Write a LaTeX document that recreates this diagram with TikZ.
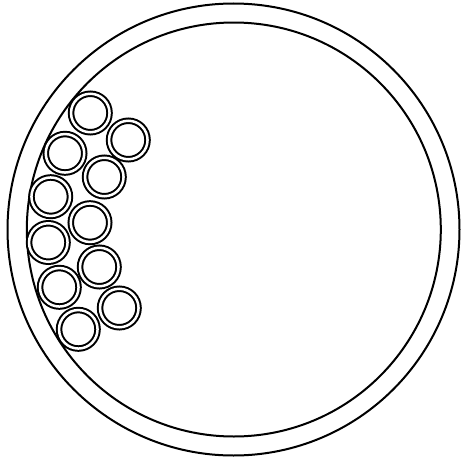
\documentclass[tikz,border=0pt]{standalone}
\usepackage{tikz}
\usetikzlibrary{positioning}
\tikzset{
  %% ---- vessel ----
  wall/.style = {draw=black, line width=2pt},
  %% ---- small tubes ----
  tube/.style = {circle, draw=black, line width=2pt, double=white,
                 double distance=2.5pt, minimum size=38.5pt,
                 inner sep=0pt, outer sep=0pt},
}
\begin{document}
\begin{tikzpicture}[x=1pt, y=-1pt]

  \useasboundingbox (0,0) rectangle (461,463);

  % vessel walls
  \draw[wall] (233.5,229.5) circle (226);
  \draw[wall] (233.8,229.5) circle (207);

  % tubes packed against the left wall
  \foreach \x/\y [count=\i] in {90.3/113, 128.3/140, 65/153.3, 104.3/177,
                                50.7/196.7, 90/222.7, 48.3/242.5, 99.3/267,
                                59.3/287.3, 119.3/308, 78.3/329.3}
    \node[tube] (tube\i) at (\x,\y) {};

\end{tikzpicture}
\end{document}
